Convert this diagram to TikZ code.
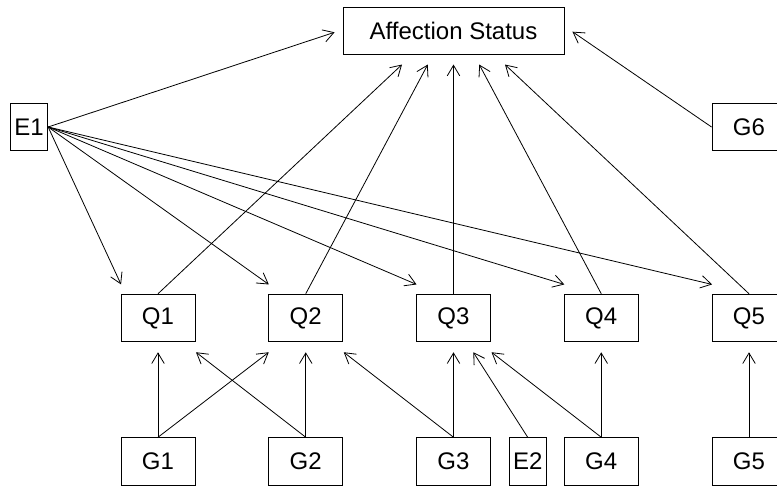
\documentclass[tikz,border=0pt]{standalone}
\usepackage{fontspec}
\setmainfont{Liberation Sans}
\usepackage{tikz}
\usetikzlibrary{arrows.meta}

\begin{document}
\begin{tikzpicture}[x=1pt,y=-1pt,>={Straight Barb[length=10.5pt,width=12.5pt]},
  box/.style={draw,line width=0.9pt,inner sep=0pt,minimum width=74pt,minimum height=47.6pt,
    font=\fontsize{24}{28}\selectfont},
  small/.style={box,minimum width=37.4pt},
  link/.style={->,line width=0.8pt}]
  \useasboundingbox (0,0) rectangle (777,489);
  \clip (0,0) rectangle (777,489);
  % outcome and environment
  \node[box,minimum width=221pt] (aff) at (453.5,31) {Affection Status};
  \node[small] (e1) at (29,127) {E1};
  \node[box] (g6) at (749,127) {G6};
  % traits
  \node[box] (q1) at (158,318) {Q1};
  \node[box] (q2) at (305.75,318) {Q2};
  \node[box] (q3) at (453.5,318) {Q3};
  \node[box] (q4) at (601.25,318) {Q4};
  \node[box] (q5) at (749,318) {Q5};
  % genes
  \node[box] (g1) at (158,461.5) {G1};
  \node[box] (g2) at (305.75,461.5) {G2};
  \node[box] (g3) at (453.5,461.5) {G3};
  \node[small] (e2) at (527.7,461.5) {E2};
  \node[box] (g4) at (601.25,461.5) {G4};
  \node[box] (g5) at (749,461.5) {G5};
  % into the affection status
  \draw[link] (e1.east) -- ([xshift=-8pt,yshift=-1.3pt]aff.west);
  \draw[link] (g6.west) -- ([xshift=8pt,yshift=-0.7pt]aff.east);
  \draw[link] (q1.north) -- ([xshift=-51.5pt,yshift=-9.3pt]aff.south);
  \draw[link] (q2.north) -- ([xshift=-25.75pt,yshift=-9.3pt]aff.south);
  \draw[link] (q3.north) -- ([yshift=-9.3pt]aff.south);
  \draw[link] (q4.north) -- ([xshift=25.75pt,yshift=-9.3pt]aff.south);
  \draw[link] (q5.north) -- ([xshift=51.5pt,yshift=-9.3pt]aff.south);
  % E1 onto every trait
  \draw[link] (e1.east) -- ([xshift=0.5pt,yshift=9.3pt]q1.north west);
  \draw[link] (e1.east) -- ([xshift=0.5pt,yshift=9.3pt]q2.north west);
  \draw[link] (e1.east) -- ([xshift=0.5pt,yshift=9.3pt]q3.north west);
  \draw[link] (e1.east) -- ([xshift=0.5pt,yshift=9.3pt]q4.north west);
  \draw[link] (e1.east) -- ([xshift=0.5pt,yshift=9.3pt]q5.north west);
  % genes onto traits
  \draw[link] (g1.north) -- ([yshift=-10pt]q1.south);
  \draw[link] (g2.north) -- ([xshift=38pt,yshift=-10pt]q1.south);
  \draw[link] (g1.north) -- ([xshift=-37pt,yshift=-10pt]q2.south);
  \draw[link] (g2.north) -- ([yshift=-10pt]q2.south);
  \draw[link] (g3.north) -- ([xshift=38pt,yshift=-10pt]q2.south);
  \draw[link] (g3.north) -- ([yshift=-10pt]q3.south);
  \draw[link] (e2.north) -- ([xshift=19.8pt,yshift=-10pt]q3.south);
  \draw[link] (g4.north) -- ([xshift=38pt,yshift=-10pt]q3.south);
  \draw[link] (g4.north) -- ([yshift=-10pt]q4.south);
  \draw[link] (g5.north) -- ([yshift=-10pt]q5.south);
\end{tikzpicture}
\end{document}
